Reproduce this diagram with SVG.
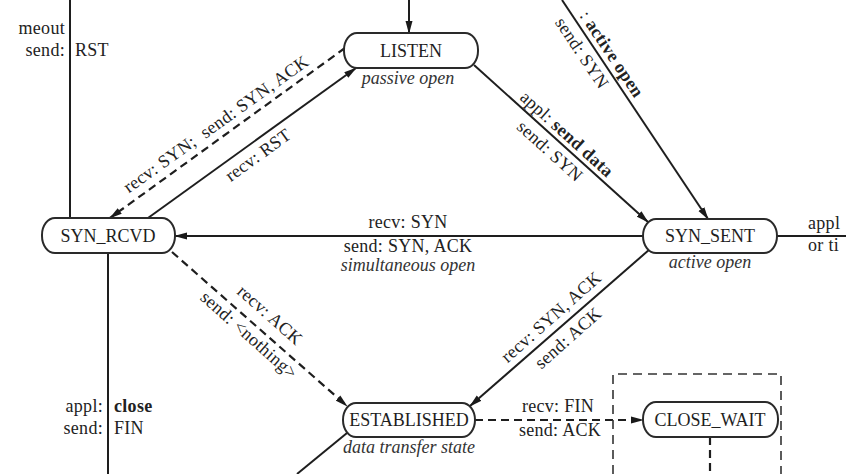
<svg xmlns="http://www.w3.org/2000/svg" width="846" height="474" viewBox="0 0 846 474">
<defs>
<marker id="ah" markerWidth="13" markerHeight="8" refX="12" refY="4" orient="auto" markerUnits="userSpaceOnUse">
<path d="M0,0.5 L13,4 L0,7.5 z" fill="#1a1a1a"/>
</marker>
<style>
.node rect{fill:#fff;stroke:#2a2a2a;stroke-width:2}
.nt{font-family:"Liberation Serif","Times New Roman",serif;font-size:18px;fill:#1e1e1e;text-anchor:middle}
.cap{font-family:"Liberation Serif","Times New Roman",serif;font-size:18px;font-style:italic;fill:#333;text-anchor:middle}
.lbl{font-family:"Liberation Serif","Times New Roman",serif;font-size:18px;fill:#222;letter-spacing:0.3px}
.c{text-anchor:middle}
.e{text-anchor:end}
.b{font-weight:bold}
.ln{fill:none;stroke:#1e1e1e;stroke-width:2}
.ds{fill:none;stroke:#1e1e1e;stroke-width:2.2;stroke-dasharray:8 5}
.box{fill:none;stroke:#333;stroke-width:1.6;stroke-dasharray:9 6}
</style>
</defs>
<rect width="846" height="474" fill="#fff"/>

<g id="connectors">
<line class="ln" x1="409" y1="0" x2="409" y2="33" marker-end="url(#ah)"/>
<line class="ln" x1="562" y1="0" x2="708" y2="219" marker-end="url(#ah)"/>
<line class="ln" x1="474" y1="65" x2="648" y2="222" marker-end="url(#ah)"/>
<line class="ln" x1="148" y1="218" x2="356" y2="68" marker-end="url(#ah)"/>
<line class="ds" x1="345" y1="48" x2="110" y2="218" marker-end="url(#ah)"/>
<line class="ln" x1="643" y1="236" x2="175" y2="236" marker-end="url(#ah)"/>
<line class="ds" x1="172" y1="252" x2="347" y2="406" marker-end="url(#ah)"/>
<line class="ln" x1="650" y1="249" x2="470" y2="406" marker-end="url(#ah)"/>
<line class="ds" x1="475" y1="420" x2="643" y2="420" marker-end="url(#ah)"/>
<line class="ln" x1="777" y1="236" x2="846" y2="236"/>
<line class="ln" x1="70" y1="0" x2="70" y2="218"/>
<line class="ln" x1="108" y1="253" x2="108" y2="474"/>
<line class="ln" x1="347" y1="433" x2="297" y2="474"/>
<line class="ds" x1="710" y1="437" x2="710" y2="474"/>
<path class="box" d="M613,474 L613,374 L781,374 L781,474"/>
</g>

<g id="labels">
<text class="lbl e" x="65" y="34">meout</text>
<text class="lbl e" x="65" y="56">send:</text>
<text class="lbl" x="75" y="56">RST</text>
<text class="lbl e" x="103" y="412">appl:</text>
<text class="lbl b" x="114" y="412">close</text>
<text class="lbl e" x="103" y="434">send:</text>
<text class="lbl" x="114" y="434">FIN</text>
<text class="lbl" x="808" y="229">appl</text>
<text class="lbl" x="808" y="251">or ti</text>
<text class="lbl c" x="408" y="228">recv: SYN</text>
<text class="lbl c" x="408" y="252">send: SYN, ACK</text>
<text class="cap" x="408" y="271">simultaneous open</text>
<text class="lbl c" x="558" y="412">recv: FIN</text>
<text class="lbl c" x="560" y="436">send: ACK</text>
<text class="lbl c" transform="translate(216,124) rotate(-35.5)" y="6" xml:space="preserve">recv: SYN;  send: SYN, ACK</text>
<text class="lbl c" transform="translate(258,155) rotate(-36)" y="6">recv: RST</text>
<text class="lbl c" transform="translate(270,315) rotate(41.5)" y="6">recv: ACK</text>
<text class="lbl c" transform="translate(249,335) rotate(41.5)" y="6">send: &lt;nothing&gt;</text>
<text class="lbl c" transform="translate(551,317) rotate(-41.5)" y="6">recv: SYN, ACK</text>
<text class="lbl c" transform="translate(568,338) rotate(-41.5)" y="6">send: ACK</text>
<text class="lbl c" transform="translate(567,134) rotate(42)" y="6">appl: <tspan class="b">send data</tspan></text>
<text class="lbl c" transform="translate(550,151) rotate(42)" y="6">send: SYN</text>
<text class="lbl c" transform="translate(612,54) rotate(56.3)" y="6">: <tspan class="b">active open</tspan></text>
<text class="lbl c" transform="translate(582,53) rotate(56.3)" y="6">send: SYN</text>
</g>

<g id="LISTEN" class="node">
<rect x="344" y="33" width="134" height="35" rx="13" ry="17"/>
<text class="nt" x="411" y="57">LISTEN</text>
<text class="cap" x="408" y="84">passive open</text>
</g>
<g id="SYN_RCVD" class="node">
<rect x="42" y="218" width="133" height="35" rx="13" ry="17"/>
<text class="nt" x="108" y="242">SYN_RCVD</text>
</g>
<g id="SYN_SENT" class="node">
<rect x="643" y="219" width="134" height="34" rx="13" ry="17"/>
<text class="nt" x="710" y="242">SYN_SENT</text>
<text class="cap" x="710" y="268">active open</text>
</g>
<g id="ESTABLISHED" class="node">
<rect x="343" y="403" width="132" height="34" rx="13" ry="17"/>
<text class="nt" x="409" y="426">ESTABLISHED</text>
<text class="cap" x="409" y="453">data transfer state</text>
</g>
<g id="CLOSE_WAIT" class="node">
<rect x="643" y="402" width="135" height="35" rx="13" ry="17"/>
<text class="nt" x="710" y="426">CLOSE_WAIT</text>
</g>
</svg>
